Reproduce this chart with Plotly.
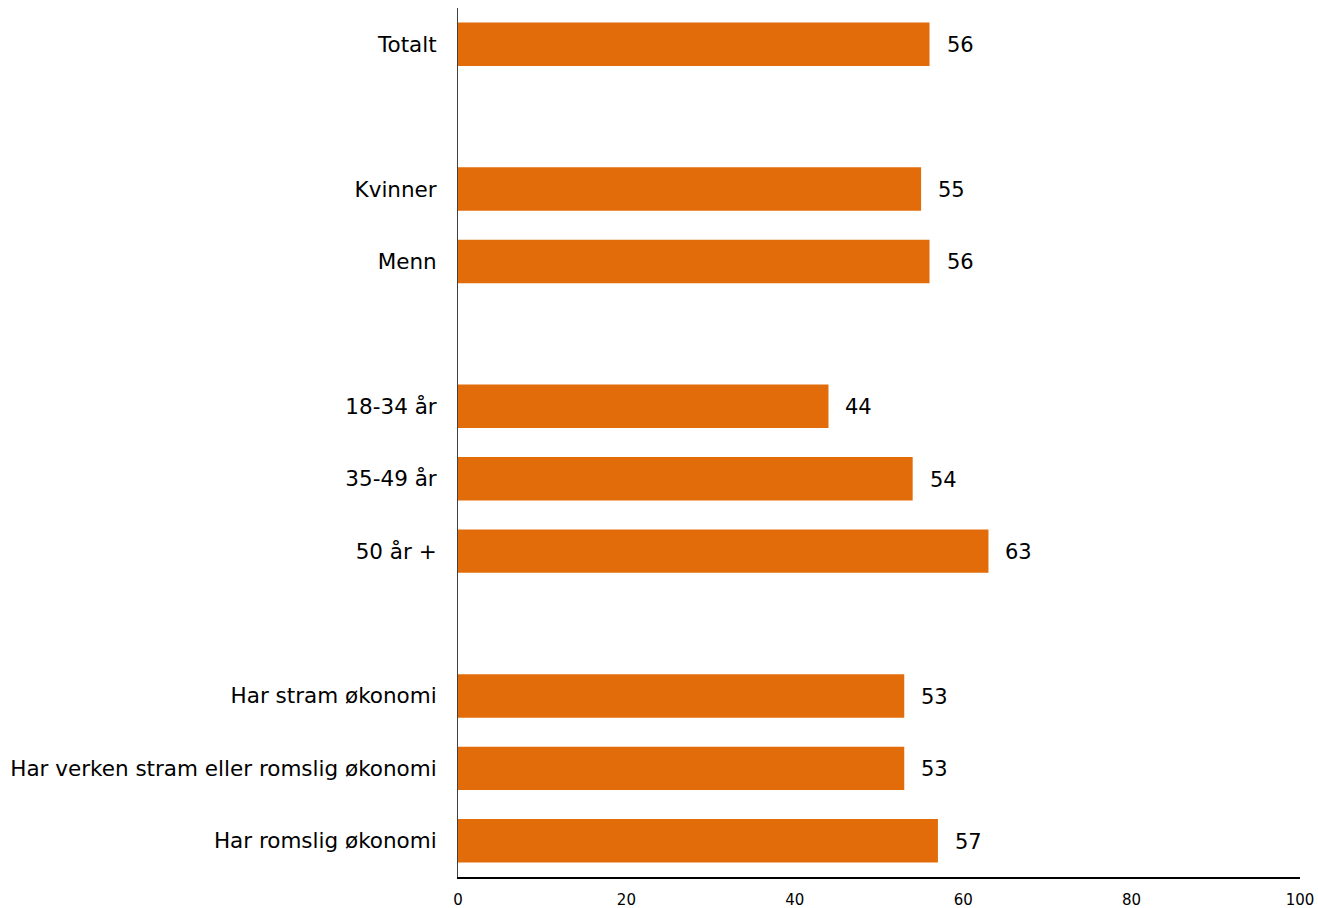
import plotly.graph_objects as go

groups = [
    ["Totalt"],
    ["Kvinner", "Menn"],
    ["18-34 år", "35-49 år", "50 år +"],
    ["Har stram økonomi", "Har verken stram eller romslig økonomi", "Har romslig økonomi"],
]
values = [
    [56],
    [55, 56],
    [44, 54, 63],
    [53, 53, 57],
]
x_ticks = [0, 20, 40, 60, 80, 100]

bar_color = "#E36C0A"
font_family = "Verdana, DejaVu Sans, sans-serif"

labels, vals, pos = [], [], []
row = 0
for gi, (g, v) in enumerate(zip(groups, values)):
    if gi > 0:
        row += 1  # spacer row between groups
    for lab, val in zip(g, v):
        labels.append(lab)
        vals.append(val)
        pos.append(row)
        row += 1
n_rows = row

fig = go.Figure()
fig.add_trace(go.Bar(
    x=vals, y=pos, orientation="h",
    marker=dict(color=bar_color, line=dict(width=0)),
    width=0.6, hoverinfo="skip",
))
for p, v in zip(pos, vals):
    fig.add_annotation(x=v, y=p, text=str(v), showarrow=False,
                       xanchor="left", yanchor="middle", xshift=15, yshift=-1,
                       font=dict(family=font_family, size=21, color="#000000"))

fig.update_layout(
    width=1318, height=908,
    margin=dict(l=458, r=18, t=8, b=31, autoexpand=False),
    paper_bgcolor="white", plot_bgcolor="white",
    showlegend=False,
    font=dict(family=font_family, color="#000000"),
    bargap=0.4,
)
fig.update_xaxes(
    range=[0, 100], tickvals=x_ticks, ticktext=[str(t) for t in x_ticks],
    showgrid=False, zeroline=False, automargin=False,
    showline=True, linecolor="#000000", linewidth=2,
    ticks="", tickfont=dict(size=15, family=font_family, color="#000000"),
    ticklabelstandoff=8,
)
fig.update_yaxes(
    range=[n_rows - 0.5, -0.5], tickvals=pos, ticktext=labels,
    showgrid=False, zeroline=False, automargin=False,
    showline=True, linecolor="#404040", linewidth=1,
    ticks="", tickfont=dict(size=21.5, family=font_family, color="#000000"),
    ticklabelstandoff=16,
)
fig.write_html(
    "out.html",
    config={"displayModeBar": False, "staticPlot": True},
    post_script="document.body.style.margin='0';document.body.style.overflow='hidden';",
)
